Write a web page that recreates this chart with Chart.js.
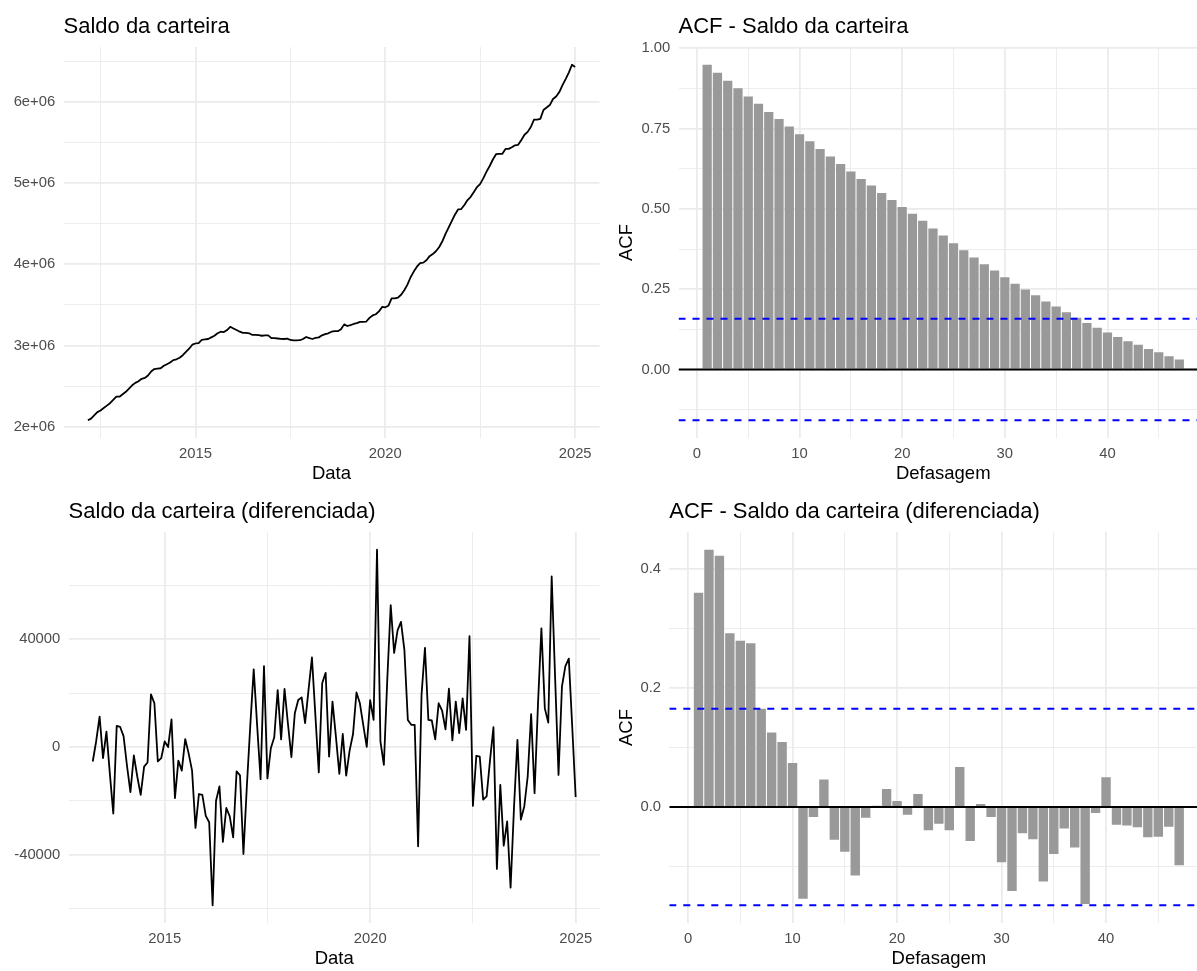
<!DOCTYPE html>
<html lang="pt-BR">
<head>
<meta charset="utf-8">
<title>Saldo da carteira</title>
<script src="https://cdn.jsdelivr.net/npm/chart.js@4.4.1/dist/chart.umd.min.js"></script>
<style>
  html, body { margin: 0; padding: 0; background: #fff; }
  body { width: 1197px; height: 971px; position: relative; overflow: hidden; }
  canvas { position: absolute; }
</style>
</head>
<body>
<canvas id="saldo" width="600" height="485" style="left:0;top:0"></canvas>
<canvas id="acfSaldo" width="615" height="485" style="left:600px;top:0"></canvas>
<canvas id="diff" width="600" height="485" style="left:0;top:485px"></canvas>
<canvas id="acfDiff" width="615" height="485" style="left:600px;top:485px"></canvas>
<script>
// Saldo mensal da carteira, de mar/2012 a jan/2025
const saldoInicio = [2012, 3];
const saldo = [
  2.08e6, 2.10e6, 2.14e6, 2.18e6, 2.20e6, 2.23e6, 2.26e6, 2.29e6, 2.33e6, 2.37e6,
  2.37e6, 2.40e6, 2.43e6, 2.47e6, 2.51e6, 2.54e6, 2.56e6, 2.59e6, 2.60e6, 2.63e6,
  2.68e6, 2.71e6, 2.715e6, 2.72e6, 2.75e6, 2.77e6, 2.79e6, 2.82e6, 2.83e6, 2.85e6,
  2.88e6, 2.92e6, 2.96e6, 3.01e6, 3.025e6, 3.03e6, 3.07e6, 3.075e6, 3.08e6, 3.10e6,
  3.12e6, 3.15e6, 3.17e6, 3.165e6, 3.19e6, 3.23e6, 3.21e6, 3.19e6, 3.17e6, 3.156e6,
  3.155e6, 3.15e6, 3.13e6, 3.13e6, 3.127e6, 3.12e6, 3.125e6, 3.125e6, 3.09e6, 3.09e6,
  3.086e6, 3.082e6, 3.08e6, 3.085e6, 3.068e6, 3.062e6, 3.063e6, 3.065e6, 3.08e6, 3.105e6,
  3.09e6, 3.08e6, 3.095e6, 3.10e6, 3.125e6, 3.14e6, 3.15e6, 3.17e6, 3.176e6, 3.176e6,
  3.20e6, 3.26e6, 3.24e6, 3.25e6, 3.265e6, 3.275e6, 3.29e6, 3.29e6, 3.295e6, 3.34e6,
  3.37e6, 3.385e6, 3.42e6, 3.475e6, 3.47e6, 3.49e6, 3.58e6, 3.58e6, 3.59e6, 3.625e6,
  3.68e6, 3.75e6, 3.84e6, 3.91e6, 3.97e6, 4.015e6, 4.02e6, 4.05e6, 4.10e6, 4.125e6,
  4.16e6, 4.21e6, 4.28e6, 4.37e6, 4.45e6, 4.53e6, 4.61e6, 4.675e6, 4.68e6, 4.73e6,
  4.79e6, 4.83e6, 4.89e6, 4.95e6, 4.99e6, 5.06e6, 5.14e6, 5.21e6, 5.29e6, 5.355e6,
  5.36e6, 5.36e6, 5.42e6, 5.42e6, 5.44e6, 5.465e6, 5.47e6, 5.53e6, 5.595e6, 5.63e6,
  5.69e6, 5.78e6, 5.78e6, 5.79e6, 5.90e6, 5.93e6, 5.96e6, 6.035e6, 6.065e6, 6.12e6,
  6.205e6, 6.28e6, 6.36e6, 6.456e6, 6.428e6
];

// Série diferenciada, de abr/2013 a jan/2025
const diffInicio = [2013, 4];
const saldoDiff = [
  -5430, 2100, 11220, -4200, 5680, -10000, -24800, 7800, 7400, 4000,
  -7000, -16800, -3200, -11000, -17800, -7300, -5800, 19500, 16200, -5400,
  -4200, 2000, -100, 10200, -19000, -5100, -8800, 2900, -2400, -8800,
  -30100, -17500, -17800, -25600, -28000, -58800, -20000, -14700, -35300, -22700,
  -25800, -33600, -9100, -10600, -39800, -14500, 8000, 28800, 8000, -12000,
  30000, -11700, -500, 3600, 21100, 2800, 21500, 8500, -3800, 12500,
  17400, 18400, 8800, 21100, 33200, 11800, -9500, 23600, 27500, -3600,
  16800, 3800, -10000, 4800, -10700, -1400, 4800, 20200, 16200, 8000,
  0, 17400, 10000, 73200, 2000, -6700, 25000, 52600, 34900, 43300,
  46400, 35900, 10000, 8200, 8200, -36900, 19300, 36800, 10000, 9800,
  2800, 16200, 13500, 6500, 21600, 2400, 16800, 5100, 18000, 6300,
  41100, -21900, -3300, -3600, -19600, -18400, -4900, 7300, -45300, -14100,
  -36700, -27700, -52300, -22500, 2600, -27000, -22100, -11000, 12200, -17200,
  15800, 44000, 14300, 9000, 63300, 25800, -10400, 22400, 30000, 32800,
  7500, -18600
];

// Defasagens das funções de autocorrelação
const lags = [
  1, 2, 3, 4, 5, 6, 7, 8, 9, 10, 11, 12, 13, 14, 15, 16, 17, 18, 19, 20,
  21, 22, 23, 24, 25, 26, 27, 28, 29, 30, 31, 32, 33, 34, 35, 36, 37, 38, 39, 40,
  41, 42, 43, 44, 45, 46, 47
];
const acfSaldo = [
  0.949, 0.924, 0.899, 0.876, 0.850, 0.828, 0.802, 0.780, 0.757, 0.733,
  0.711, 0.687, 0.663, 0.640, 0.617, 0.593, 0.573, 0.550, 0.528, 0.506,
  0.485, 0.463, 0.439, 0.417, 0.393, 0.371, 0.349, 0.328, 0.308, 0.287,
  0.267, 0.249, 0.231, 0.212, 0.196, 0.178, 0.161, 0.145, 0.130, 0.115,
  0.101, 0.088, 0.077, 0.064, 0.054, 0.041, 0.031
];
const acfDiff = [
  0.360, 0.432, 0.422, 0.292, 0.279, 0.275, 0.165, 0.125, 0.109, 0.074,
  -0.154, -0.017, 0.046, -0.055, -0.075, -0.115, -0.018, 0.002, 0.030, 0.010,
  -0.013, 0.022, -0.039, -0.028, -0.039, 0.067, -0.057, 0.005, -0.017, -0.093,
  -0.141, -0.044, -0.054, -0.125, -0.079, -0.036, -0.068, -0.163, -0.010, 0.050,
  -0.030, -0.031, -0.034, -0.051, -0.050, -0.033, -0.098
];
// limites de significância (linhas tracejadas)
const limiteSaldo = 0.158;
const limiteDiff = 0.165;

// marcas dos eixos (principais com rótulo, secundárias só com grade)
const anos = [2015, 2020, 2025];
const anosSec = [2012.5, 2017.5, 2022.5];
const saldoTicks = [2e6, 3e6, 4e6, 5e6, 6e6];
const saldoTicksSec = [2.5e6, 3.5e6, 4.5e6, 5.5e6, 6.5e6];
const diffTicks = [-40000, 0, 40000];
const diffTicksSec = [-60000, -20000, 20000, 60000];
const acfSaldoTicks = [0, 0.25, 0.5, 0.75, 1];
const acfSaldoTicksSec = [-0.125, 0.125, 0.375, 0.625, 0.875];
const acfDiffTicks = [0, 0.2, 0.4];
const acfDiffTicksSec = [-0.1, 0.1, 0.3];
const lagTicks = [0, 10, 20, 30, 40];
const lagTicksSec = [5, 15, 25, 35, 45];

Chart.defaults.font.family = "'Liberation Sans', Arial, Helvetica, sans-serif";
Chart.defaults.color = '#4D4D4D';
Chart.defaults.animation = false;
Chart.defaults.events = [];
Chart.defaults.plugins.legend.display = false;
Chart.defaults.plugins.tooltip.enabled = false;

// mesma expansão de 5% usada pelo ggplot
function expandir(min, max) {
  const d = (max - min) * 0.05;
  return [min - d, max + d];
}

function pontosMensais(inicio, valores) {
  return valores.map((v, i) => ({ x: inicio[0] + (inicio[1] - 1 + i) / 12, y: v }));
}

function eixo(o) {
  const todos = o.principais.concat(o.secundarias)
    .filter(v => v >= o.min && v <= o.max)
    .sort((a, b) => a - b);
  const cfg = {
    type: 'linear',
    min: o.min,
    max: o.max,
    bounds: 'data',
    offset: false,
    border: { display: false },
    grid: {
      offset: false,
      drawTicks: false,
      color: '#EBEBEB',
      lineWidth: ctx => (ctx.tick && o.principais.includes(ctx.tick.value)) ? 1.8 : 0.9
    },
    ticks: {
      padding: o.vertical ? 8.3 : 6.7,
      color: '#4D4D4D',
      font: { size: 14.8 },
      maxRotation: 0,
      autoSkip: false,
      callback: v => o.principais.includes(v) ? o.formato(v) : ''
    },
    afterBuildTicks: s => { s.ticks = todos.map(v => ({ value: v })); },
    afterFit: s => {
      if (o.vertical) s.width = o.tamanho;
      else s.height = o.tamanho;
    }
  };
  if (o.titulo) {
    cfg.title = {
      display: true,
      text: o.titulo,
      color: '#000',
      font: { size: 18.5 },
      padding: o.vertical ? { top: 15.7, bottom: 0 } : { top: 0, bottom: 0.3 }
    };
  }
  return cfg;
}

function titulo(texto) {
  return {
    display: true,
    text: texto,
    align: 'start',
    fullSize: false,
    color: '#000',
    font: { size: 22, weight: 'normal' },
    padding: { top: 13.6, bottom: 7 }
  };
}

function graficoLinha(id, inicio, valores, o) {
  const pts = pontosMensais(inicio, valores);
  const [xMin, xMax] = expandir(pts[0].x, pts[pts.length - 1].x);
  const [yMin, yMax] = expandir(Math.min(...valores), Math.max(...valores));
  return new Chart(document.getElementById(id), {
    type: 'line',
    data: {
      datasets: [{
        data: pts,
        borderColor: '#000',
        borderWidth: 1.8,
        borderJoinStyle: 'round',
        pointRadius: 0,
        tension: 0
      }]
    },
    options: {
      responsive: false,
      devicePixelRatio: 1,
      layout: { padding: { left: 0, right: o.direita, top: 0, bottom: 0 } },
      plugins: { title: titulo(o.titulo) },
      scales: {
        x: eixo({ min: xMin, max: xMax, principais: anos, secundarias: anosSec,
                  formato: v => String(v), tamanho: 47, titulo: 'Data' }),
        y: eixo({ min: yMin, max: yMax, principais: o.yTicks, secundarias: o.yTicksSec,
                  formato: o.formato, tamanho: o.largura, vertical: true })
      }
    }
  });
}

function linhaH(y, x0, x1, cor, tracejado) {
  return {
    type: 'line',
    data: [{ x: x0, y: y }, { x: x1, y: y }],
    borderColor: cor,
    borderWidth: 1.8,
    borderDash: tracejado ? [7, 7] : [],
    pointRadius: 0,
    order: 1
  };
}

function graficoAcf(id, valores, limite, o) {
  const xMin = lags[0] - 0.45, xMax = lags[lags.length - 1] + 0.45;
  const [x0, x1] = expandir(xMin, xMax);
  const [yMin, yMax] = expandir(Math.min(-limite, ...valores), Math.max(limite, ...valores));
  return new Chart(document.getElementById(id), {
    type: 'bar',
    data: {
      datasets: [
        {
          data: lags.map((l, i) => ({ x: l, y: valores[i] })),
          backgroundColor: '#999999',
          borderWidth: 0,
          categoryPercentage: 1,
          barPercentage: 0.9,
          order: 3
        },
        linhaH(0, x0, x1, '#000', false),
        linhaH(limite, x0, x1, '#0000FF', true),
        linhaH(-limite, x0, x1, '#0000FF', true)
      ]
    },
    options: {
      responsive: false,
      devicePixelRatio: 1,
      layout: { padding: { left: 0, right: o.direita, top: 0, bottom: 0 } },
      plugins: { title: titulo(o.titulo) },
      scales: {
        x: eixo({ min: x0, max: x1, principais: lagTicks, secundarias: lagTicksSec,
                  formato: v => String(v), tamanho: 47, titulo: 'Defasagem' }),
        y: eixo({ min: yMin, max: yMax, principais: o.yTicks, secundarias: o.yTicksSec,
                  formato: o.formato, tamanho: o.largura, vertical: true, titulo: 'ACF' })
      }
    }
  });
}

graficoLinha('saldo', saldoInicio, saldo, {
  titulo: 'Saldo da carteira',
  yTicks: saldoTicks, yTicksSec: saldoTicksSec,
  formato: v => (v / 1e6) + 'e+06',
  largura: 63.5, direita: 0.5
});

graficoLinha('diff', diffInicio, saldoDiff, {
  titulo: 'Saldo da carteira (diferenciada)',
  yTicks: diffTicks, yTicksSec: diffTicksSec,
  formato: v => String(v),
  largura: 68.6, direita: 0.2
});

graficoAcf('acfSaldo', acfSaldo, limiteSaldo, {
  titulo: 'ACF - Saldo da carteira',
  yTicks: acfSaldoTicks, yTicksSec: acfSaldoTicksSec,
  formato: v => v.toFixed(2),
  largura: 78.5, direita: 7
});

graficoAcf('acfDiff', acfDiff, limiteDiff, {
  titulo: 'ACF - Saldo da carteira (diferenciada)',
  yTicks: acfDiffTicks, yTicksSec: acfDiffTicksSec,
  formato: v => v.toFixed(1),
  largura: 69.3, direita: 6.6
});
</script>
</body>
</html>
